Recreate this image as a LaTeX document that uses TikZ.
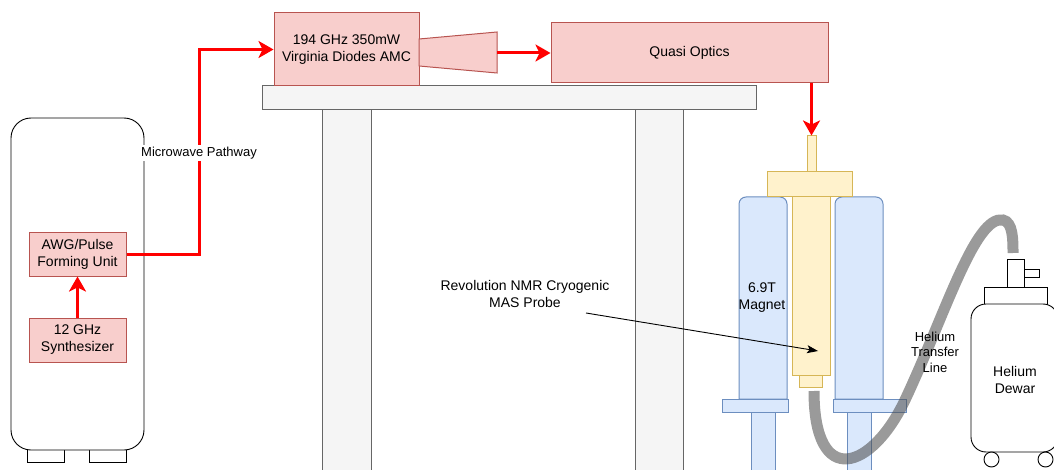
\documentclass[tikz,border=0pt]{standalone}
\usepackage{fontspec}
\setmainfont{Liberation Sans}
\usetikzlibrary{arrows.meta}
\definecolor{redfill}{HTML}{F8CECC}
\definecolor{redline}{HTML}{B85450}
\definecolor{yelfill}{HTML}{FFF2CC}
\definecolor{yelline}{HTML}{D6B656}
\definecolor{bluefill}{HTML}{DAE8FC}
\definecolor{blueline}{HTML}{6C8EBF}
\definecolor{greyfill}{HTML}{F5F5F5}
\definecolor{greyline}{HTML}{666666}
\definecolor{beam}{HTML}{FF0000}
\definecolor{hose}{HTML}{4D4D4D}
\begin{document}
\begin{tikzpicture}[x=1pt,y=-1pt,
  txt/.style={font=\fontsize{14}{17}\selectfont, align=center, inner sep=0pt},
  smalltxt/.style={font=\fontsize{13}{15.5}\selectfont, align=center, inner sep=0pt},
  box/.style={txt, draw=redline, fill=redfill, line width=1pt},
  probepart/.style={draw=yelline, fill=yelfill, line width=1pt, inner sep=0pt},
  magnetpart/.style={draw=blueline, fill=bluefill, line width=1pt},
  bench/.style={draw=greyline, fill=greyfill, line width=1pt},
  outline/.style={draw=black, line width=0.9pt, fill=white},
  beamarrow/.style={draw=beam, line width=3pt,
    -{Stealth[length=15pt,width=17pt,inset=4pt]}},
  leaderarrow/.style={draw=black, line width=0.9pt,
    -{Stealth[length=11pt,width=8pt,inset=2.5pt]}},
  transfer/.style={draw=hose, line width=11pt, opacity=0.57}
]
\useasboundingbox (0,0) rectangle (1054,470);

% optical bench
\draw[bench] (322,110) rectangle (371,475);
\draw[bench] (635,110) rectangle (683,475);
\draw[bench] (262,86) rectangle (756,110);

% control cabinet
\draw[outline] (27,448) rectangle (64,462);
\draw[outline] (89,448) rectangle (126,462);
\draw[outline, rounded corners=20pt] (11,118) rectangle (144,450);
\node[box, minimum width=97pt, minimum height=43pt] (awg) at (77.5,254.5) {AWG/Pulse\\Forming Unit};
\node[box, minimum width=97pt, minimum height=44pt] (synth) at (77.5,340) {12 GHz\\Synthesizer};

% microwave source, horn and quasi optics
\node[box, minimum width=145pt, minimum height=73pt] (amc) at (346.5,49.5) {194 GHz 350mW\\Virginia Diodes AMC};
\draw[draw=redline, fill=redfill, line width=1pt] (419,39) -- (497,32) -- (497,73) -- (419,66) -- cycle;
\coordinate (hornout) at (497,53);
\node[box, minimum width=277pt, minimum height=60pt] (qo) at (689.5,53) {Quasi Optics};

% magnet
\draw[magnetpart] (751,412) rectangle (775,475);
\draw[magnetpart] (847,412) rectangle (871,475);
\draw[magnetpart] (739,300) [rounded corners=7pt] -- (739,197) -- (787,197) -- (787,300) [sharp corners] -- (787,399) -- (739,399) -- cycle;
\draw[magnetpart] (835,300) [rounded corners=7pt] -- (835,197) -- (883,197) -- (883,300) [sharp corners] -- (883,399) -- (835,399) -- cycle;
\draw[magnetpart] (722,399) rectangle (788,412);
\draw[magnetpart] (833,399) rectangle (906,412);
\node[txt] (maglabel) at (762,298) {6.9T\\Magnet};

% probe
\node[probepart, minimum width=9pt, minimum height=36pt] (stem) at (811.5,154) {};
\node[probepart, minimum width=85pt, minimum height=25pt] (cap) at (809.5,184.5) {};
\node[probepart, minimum width=38pt, minimum height=178pt] (probe) at (811,286) {};
\node[probepart, minimum width=23pt, minimum height=12pt] (tip) at (810.5,381) {};
\coordinate (hosein) at (814,391);

% helium dewar
\draw[outline] (1007,259) rectangle (1024,287);
\draw[outline] (1024,269) rectangle (1039,277);
\draw[outline] (984,287) rectangle (1047,304);
\draw[outline, rounded corners=15pt] (971,304) rectangle (1058,452);
\draw[outline] (991.5,459.5) circle (7.5pt);
\draw[outline] (1045.5,459.5) circle (7.5pt);
\coordinate (hoseout) at (1013,253);
\node[txt] (dewarlabel) at (1015,380) {Helium\\Dewar};

% helium transfer line
\draw[transfer] (hosein) .. controls (814,490) and (872,470) .. (905,400)
  .. controls (945,315) and (975,215) .. (1003,220)
  .. controls (1013,222) and (1013,240) .. (hoseout);
\node[smalltxt] (hoselabel) at (935,352) {Helium\\Transfer\\Line};

% beam path
\draw[beamarrow] (synth.north) -- (awg.south);
\draw[beamarrow] (awg.east) -- (199,254.5) |- (amc.west);
\node[smalltxt, fill=white, inner sep=2pt] (pathlabel) at (199,153) {Microwave Pathway};
\draw[beamarrow] (hornout) -- (qo.west);
\draw[beamarrow] (qo.south -| stem.north) -- (stem.north);

% probe callout
\node[txt] (probelabel) at (525,294) {Revolution NMR Cryogenic\\MAS Probe};
\coordinate (leader) at (586,313);
\coordinate (probepoint) at (818,351);
\draw[leaderarrow] (leader) -- (probepoint);
\end{tikzpicture}
\end{document}
